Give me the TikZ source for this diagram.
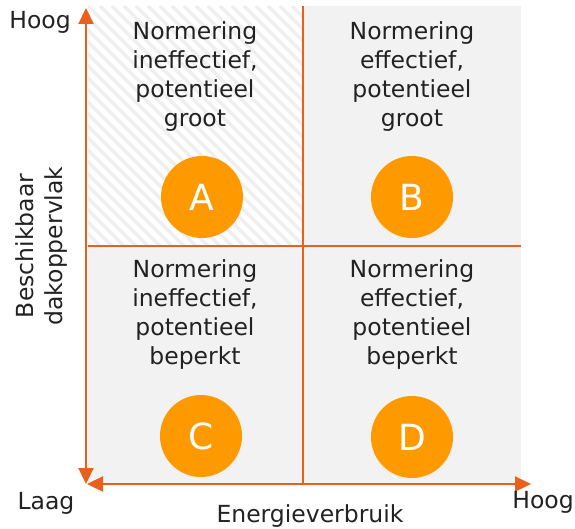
\documentclass[tikz,border=0pt]{standalone}
\usepackage{fontspec}
\setmainfont{DejaVu Sans}
\usetikzlibrary{arrows.meta}
\definecolor{axisorange}{HTML}{E8601C}
\definecolor{circorange}{HTML}{FF9900}
\definecolor{bggray}{HTML}{F2F2F2}
\definecolor{hatchgray}{HTML}{EFEFEF}
\definecolor{txt}{HTML}{222222}
\tikzset{
  axisline/.style={draw=axisorange, line width=2.2pt, {Triangle[length=16pt,width=15pt]}-{Triangle[length=16pt,width=15pt]}},
  divider/.style={draw=axisorange, line width=2.2pt},
  qtext/.style={align=center, text=txt, inner sep=0pt, font=\fontsize{23.5pt}{29pt}\selectfont},
  lbl/.style={text=txt, inner sep=0pt, font=\fontsize{23.5pt}{29pt}\selectfont},
  letter/.style={circle, fill=circorange, minimum size=82pt, inner sep=0pt, text=white, font=\fontsize{36pt}{36pt}\selectfont}
}
\begin{document}
\begin{tikzpicture}[x=1pt,y=-1pt]
\useasboundingbox (0,0) rectangle (575,529);
% background
\fill[bggray] (88,6) rectangle (521,483);
\fill[white] (88,6) rectangle (303,246);
\begin{scope}
  \clip (88,6) rectangle (303,246);
  \foreach \i in {-300,-288,...,260} {
    \draw[hatchgray, line width=3.5pt] (88+\i,6) -- ++(260,260);
  }
\end{scope}
% coordinates
\coordinate (o) at (86,484);
\coordinate (ytop) at (86,8);
\coordinate (xo) at (87,484);
\coordinate (xr) at (531,484);
\coordinate (vt) at (303,6);
\coordinate (vb) at (303,484);
\coordinate (hl) at (88,246);
\coordinate (hr) at (521,246);
% dividers
\draw[divider] (vt) -- (vb);
\draw[divider] (hl) -- (hr);
% axes
\draw[axisline] (o) -- (ytop);
\draw[axisline] (xo) -- (xr);
% quadrant texts
\node[qtext] (ta) at (195,76.5) {Normering\\ineffectief,\\potentieel\\groot};
\node[qtext] (tb) at (412,76.5) {Normering\\effectief,\\potentieel\\groot};
\node[qtext] (tc) at (195,315) {Normering\\ineffectief,\\potentieel\\beperkt};
\node[qtext] (td) at (412,315) {Normering\\effectief,\\potentieel\\beperkt};
% circles
\node[letter] (ca) at (202,197) {A};
\node[letter] (cb) at (412,197) {B};
\node[letter] (cc) at (201,436) {C};
\node[letter] (cd) at (412,437) {D};
% axis labels
\node[lbl] (hoogy) at (40,22) {Hoog};
\node[lbl] (laag) at (46,503) {Laag};
\node[lbl] (hoogx) at (543,502) {Hoog};
\node[lbl] (xlabel) at (310,516) {Energieverbruik};
\node[qtext, rotate=90] (ylabel) at (42,246) {Beschikbaar\\dakoppervlak};
\end{tikzpicture}
\end{document}
